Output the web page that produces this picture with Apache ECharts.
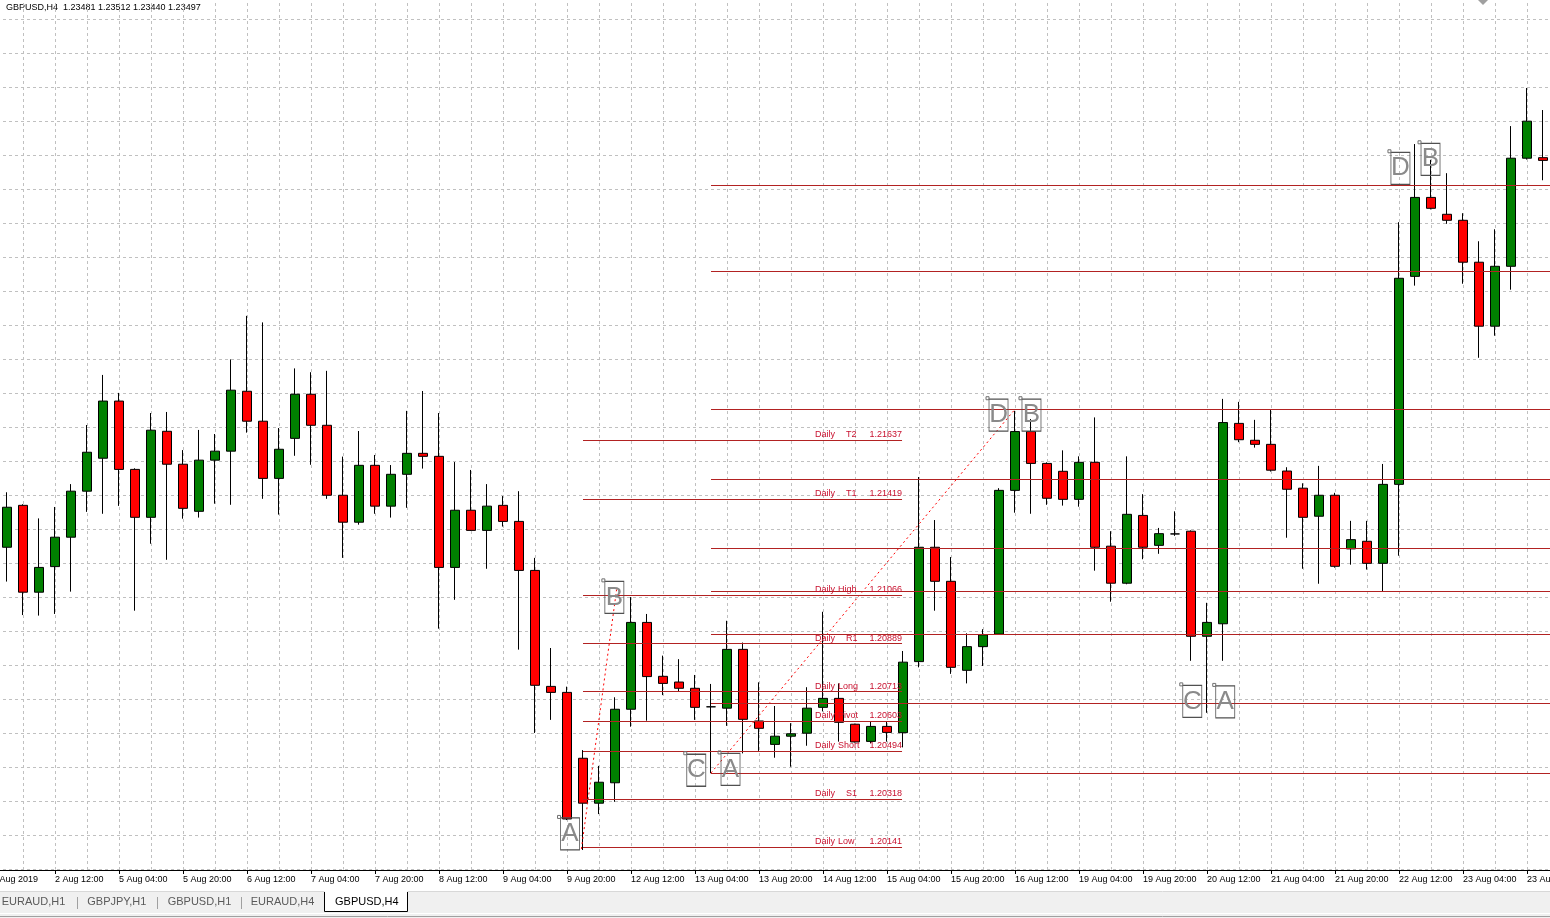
<!DOCTYPE html>
<html><head><meta charset="utf-8">
<script src="https://cdn.jsdelivr.net/npm/echarts@6/dist/echarts.min.js"></script>
<style>html,body{margin:0;padding:0;background:#fff;overflow:hidden}#c{width:1550px;height:918px}</style>
</head><body><div id="c"></div><script>
// ---------- data ----------
const opens = [1.21243,1.21397,1.21078,1.21172,1.21280,1.21449,1.21570,1.21780,1.21529,1.21353,
1.21669,1.21548,1.21375,1.21563,1.21596,1.21816,1.21706,1.21496,1.21643,1.21805,
1.21691,1.21434,1.21335,1.21544,1.21394,1.21511,1.21588,1.21577,1.21169,1.21379,
1.21305,1.21397,1.21338,1.21158,1.20732,1.20710,1.20468,1.20303,1.20378,1.20648,
1.20967,1.20769,1.20748,1.20725,1.20657,1.20652,1.20868,1.20605,1.20519,1.20549,
1.20560,1.20655,1.20688,1.20593,1.20530,1.20585,1.20562,1.20823,1.21243,1.21118,
1.20791,1.20878,1.20924,1.21452,1.21668,1.21551,1.21522,1.21419,1.21555,1.21247,
1.21111,1.21360,1.21250,1.21292,1.21302,1.20916,1.20962,1.21698,1.21636,1.21621,
1.21523,1.21460,1.21357,1.21434,1.21237,1.21265,1.21184,1.21474,1.22238,1.22528,
1.22466,1.22444,1.22290,1.22055,1.22275,1.22672,1.22674];
const closes = [1.21390,1.21078,1.21169,1.21280,1.21449,1.21592,1.21780,1.21529,1.21353,1.21673,
1.21548,1.21386,1.21563,1.21596,1.21820,1.21706,1.21496,1.21603,1.21805,1.21691,
1.21434,1.21335,1.21544,1.21394,1.21511,1.21588,1.21577,1.21169,1.21379,1.21305,
1.21394,1.21338,1.21158,1.20736,1.20710,1.20245,1.20303,1.20380,1.20648,1.20967,
1.20768,1.20743,1.20725,1.20655,1.20657,1.20868,1.20611,1.20578,1.20549,1.20558,
1.20652,1.20688,1.20600,1.20528,1.20585,1.20563,1.20821,1.21243,1.21118,1.20802,
1.20878,1.20921,1.21452,1.21668,1.21551,1.21423,1.21419,1.21555,1.21243,1.21111,
1.21364,1.21243,1.21293,1.21292,1.20916,1.20967,1.21701,1.21638,1.21621,1.21526,
1.21456,1.21353,1.21434,1.21173,1.21271,1.21184,1.21474,1.22231,1.22528,1.22488,
1.22444,1.22290,1.22055,1.22275,1.22672,1.22808,1.22664];
const lows = [1.21117,1.20994,1.20992,1.20998,1.21080,1.21373,1.21366,1.21395,1.21010,1.21256,
1.21197,1.21348,1.21352,1.21403,1.21399,1.21664,1.21421,1.21363,1.21579,1.21546,
1.21421,1.21204,1.21326,1.21366,1.21352,1.21388,1.21532,1.20944,1.21050,1.21303,
1.21164,1.21319,1.20867,1.20561,1.20609,1.20241,1.20131,1.20263,1.20308,1.20584,
1.20606,1.20700,1.20715,1.20609,1.20413,1.20587,1.20486,1.20495,1.20470,1.20437,
1.20514,1.20640,1.20529,1.20526,1.20523,1.20529,1.20508,1.20802,1.21010,1.20778,
1.20743,1.20807,1.20924,1.21370,1.21366,1.21399,1.21396,1.21392,1.21157,1.21043,
1.21107,1.21199,1.21219,1.21285,1.20826,1.20635,1.20826,1.21629,1.21609,1.21521,
1.21278,1.21164,1.21109,1.21168,1.21179,1.21161,1.21082,1.21212,1.22204,1.22484,
1.22431,1.22211,1.21939,1.22020,1.22189,1.22667,1.22591];
const highs = [1.21445,1.21401,1.21349,1.21391,1.21475,1.21692,1.21876,1.21810,1.21533,1.21736,
1.21740,1.21600,1.21674,1.21659,1.21933,1.22093,1.22069,1.21681,1.21900,1.21886,
1.21891,1.21576,1.21670,1.21582,1.21545,1.21744,1.21817,1.21736,1.21556,1.21527,
1.21475,1.21431,1.21449,1.21204,1.20873,1.20731,1.20498,1.20440,1.20692,1.21060,
1.20998,1.20845,1.20832,1.20774,1.20741,1.20973,1.20893,1.20747,1.20660,1.20597,
1.20729,1.21006,1.20743,1.20595,1.20602,1.20602,1.20862,1.21501,1.21343,1.21207,
1.20927,1.20942,1.21460,1.21744,1.21714,1.21555,1.21599,1.21577,1.21720,1.21302,
1.21577,1.21438,1.21314,1.21375,1.21305,1.21039,1.21788,1.21777,1.21711,1.21748,
1.21537,1.21478,1.21542,1.21443,1.21340,1.21340,1.21549,1.22437,1.22724,1.22666,
1.22617,1.22470,1.22367,1.22411,1.22790,1.22930,1.22849];

const tradingDays = ['2 Aug','5 Aug','6 Aug','7 Aug','8 Aug','9 Aug','12 Aug','13 Aug','14 Aug','15 Aug','16 Aug','19 Aug','20 Aug','21 Aug','22 Aug','23 Aug','26 Aug'];
const barHours = ['00:00','04:00','08:00','12:00','16:00','20:00'];
const categories = tradingDays.flatMap(d => barHours.map(h => d + ' ' + h)).slice(0, opens.length);
const firstTickLabel = '1 Aug 2019';
const headerText = 'GBPUSD,H4  1.23481 1.23512 1.23440 1.23497';
const tabNames = ['EURAUD,H1','GBPJPY,H1','GBPUSD,H1','EURAUD,H4','GBPUSD,H4'];

// daily pivot levels (labelled set)
const dailyNames  = ['T2','T1','High','R1','Long','Pivot','Short','S1','Low'];
const dailyValues = [1.21637,1.21419,1.21066,1.20889,1.20713,1.20603,1.20494,1.20318,1.20141];
const dailyStartBar = 36, dailyEndBar = 55.94;
// next day's levels (unlabelled set)
const nextValues = [1.22574,1.22258,1.21750,1.21493,1.21239,1.21081,1.20923,1.20670,1.20413];
const nextStartBar = 44, nextEndBar = 96.5;

// harmonic pattern point labels
const patternLetters = ['A','B','C','A','D','B','C','A','D','B'];
const patternBars    = [35.19,37.96,43.08,45.22,61.97,64.03,74.08,76.14,87.09,88.97];
const patternPrices  = [1.20190,1.21059,1.20424,1.20427,1.21728,1.21728,1.20677,1.20675,1.22635,1.22668];

// dotted legs
const legBars   = [[35.9,38.1],[44.0,63.0]];
const legPrices = [[1.20135,1.21088],[1.20414,1.21750]];

// ---------- chart ----------
const FONT = "'Liberation Sans', Arial, sans-serif";
const LEVEL_COLOR = '#b22222';
const LABEL_COLOR = '#c8102e';
const chart = echarts.init(document.getElementById('c'), null, {renderer:'canvas'});
const tickEvery = (i) => i % 4 === 3;

const candleData = opens.map((o,i) => [o, closes[i], lows[i], highs[i]]);

function richLabel(name, val){
  const long = name.length > 2;
  return long ? `{a2|Daily}{b2|${name}}{c|${val.toFixed(5)}}` : `{a|Daily}{b|${name}}{c|${val.toFixed(5)}}`;
}
const frag = (w, al) => ({width:w, align:al, fontSize:9, color:LABEL_COLOR, fontFamily:FONT});
const rich = { a:frag(31,'left'), b:frag(23,'left'), a2:frag(23,'left'), b2:frag(31,'left'), c:frag(33,'right') };

const series = [
  {
    type:'candlestick', xAxisIndex:0, yAxisIndex:0, data:candleData, barWidth:9, z:2,
    animation:false, silent:true,
    itemStyle:{color:'#008000', color0:'#ff0000', borderColor:'#000', borderColor0:'#000', borderColorDoji:'#000', borderWidth:1}
  },
  {
    type:'line', xAxisIndex:1, yAxisIndex:0, data:[], symbol:'none', z:3, silent:true, animation:false,
    markLine:{
      silent:true, symbol:['none','none'], animation:false,
      data: dailyValues.map((v,i) => [
        {coord:[dailyStartBar, v], lineStyle:{color:LEVEL_COLOR, width:1, type:'solid'},
         label:{show:true, position:'insideEndTop', distance:[0,1], formatter:richLabel(dailyNames[i], v), rich:rich}},
        {coord:[dailyEndBar, v]}
      ])
    }
  },
  {
    type:'line', xAxisIndex:1, yAxisIndex:0, data:[], symbol:'none', z:3, silent:true, animation:false,
    markLine:{
      silent:true, symbol:['none','none'], animation:false, label:{show:false},
      data: nextValues.map(v => [
        {coord:[nextStartBar, v], lineStyle:{color:LEVEL_COLOR, width:1, type:'solid'}, label:{show:false}},
        {coord:[nextEndBar, v]}
      ])
    }
  }
];
legBars.forEach((b,i) => {
  series.push({
    type:'line', xAxisIndex:1, yAxisIndex:0, symbol:'none', z:4, silent:true, animation:false,
    data:[[b[0], legPrices[i][0]],[b[1], legPrices[i][1]]],
    lineStyle:{color:'#ff0000', width:1, type:[2,3]}
  });
});
series.push({
  type:'scatter', xAxisIndex:1, yAxisIndex:0, z:5, silent:true, animation:false,
  data: patternBars.map((b,i) => [b, patternPrices[i]]),
  symbol:'rect', symbolSize:[19,32],
  itemStyle:{color:'rgba(255,255,255,0)', borderColor:'#505050', borderWidth:1, opacity:1},
  label:{show:true, position:'inside', formatter:(p) => patternLetters[p.dataIndex], fontSize:26, color:'#8a8a8a', fontFamily:FONT}
});
series.push({
  type:'scatter', xAxisIndex:1, yAxisIndex:0, z:5, silent:true, animation:false,
  data: patternBars.map((b,i) => [b, patternPrices[i]]),
  symbol:'rect', symbolSize:3, symbolOffset:[-11,-17],
  itemStyle:{color:'rgba(255,255,255,0)', borderColor:'#707070', borderWidth:1, opacity:1}
});

// tab bar graphics
const tabX = [1.7, 87.3, 167.7, 250.7, 335];
const graphic = [
  {type:'text', left:6, top:3, style:{text:headerText, font:`9px ${FONT}`, fill:'#000'}},
  {type:'text', left:-8, top:875, style:{text:firstTickLabel, font:`9px ${FONT}`, fill:'#000'}},
  {type:'polygon', shape:{points:[[1478,0],[1488,0],[1483,5]]}, style:{fill:'#a0a0a0'}},
  {type:'rect', shape:{x:0, y:892, width:1550, height:26}, style:{fill:'#f0f0f0'}},
  {type:'line', shape:{x1:0, y1:891.5, x2:1550, y2:891.5}, style:{stroke:'#d8d8d8', lineWidth:1}},
  {type:'line', shape:{x1:0, y1:913.5, x2:1550, y2:913.5}, style:{stroke:'#ffffff', lineWidth:1}},
  {type:'line', shape:{x1:0, y1:916.5, x2:1550, y2:916.5}, style:{stroke:'#a0a0a0', lineWidth:1}},
  {type:'rect', shape:{x:324.5, y:891, width:83, height:21}, style:{fill:'#fff'}},
  {type:'polyline', shape:{points:[[324.5,892],[324.5,911.5],[407.5,911.5],[407.5,892]]}, style:{stroke:'#000', lineWidth:1, fill:null}}
];
[77, 157, 241].forEach(x => graphic.push({type:'line', shape:{x1:x+0.5, y1:897, x2:x+0.5, y2:909}, style:{stroke:'#a0a0a0', lineWidth:1}}));
tabNames.forEach((t,i) => graphic.push({type:'text', left:tabX[i], top:896, style:{text:t, font:`11px ${FONT}`, fill: i === tabNames.length-1 ? '#000' : '#5a5a5a'}}));

chart.setOption({
  backgroundColor:'#fff',
  animation:false,
  grid:[
    {left:-1, top:0, width:1552, height:870, containLabel:false, outerBoundsMode:'none'},
    {left:-9, top:-15, width:1568, height:884.5, containLabel:false, outerBoundsMode:'none'}
  ],
  xAxis:[
    {type:'category', gridIndex:0, data:categories, boundaryGap:true,
     axisLine:{show:true, onZero:false, lineStyle:{color:'#000', width:1}},
     axisTick:{show:true, alignWithLabel:true, interval:tickEvery, length:4, lineStyle:{color:'#000'}},
     axisLabel:{show:true, interval:tickEvery, align:'left', margin:5, fontSize:9, fontFamily:FONT, color:'#000', hideOverlap:false},
     splitLine:{show:false}},
    {type:'value', gridIndex:0, min:-0.5, max:96.5, show:false},
    {type:'value', gridIndex:1, min:0, max:49, interval:1,
     axisLine:{show:false}, axisTick:{show:false}, axisLabel:{show:false},
     splitLine:{show:true, lineStyle:{color:'#c0c0c0', width:1, type:[3,3]}}}
  ],
  yAxis:[
    {type:'value', gridIndex:0, min:1.200576, max:1.232531, show:false},
    {type:'value', gridIndex:1, min:0, max:26, interval:1,
     axisLine:{show:false}, axisTick:{show:false}, axisLabel:{show:false},
     splitLine:{show:true, lineStyle:{color:'#c0c0c0', width:1, type:[3,3]}}}
  ],
  series:series,
  graphic:graphic
});
</script></body></html>
